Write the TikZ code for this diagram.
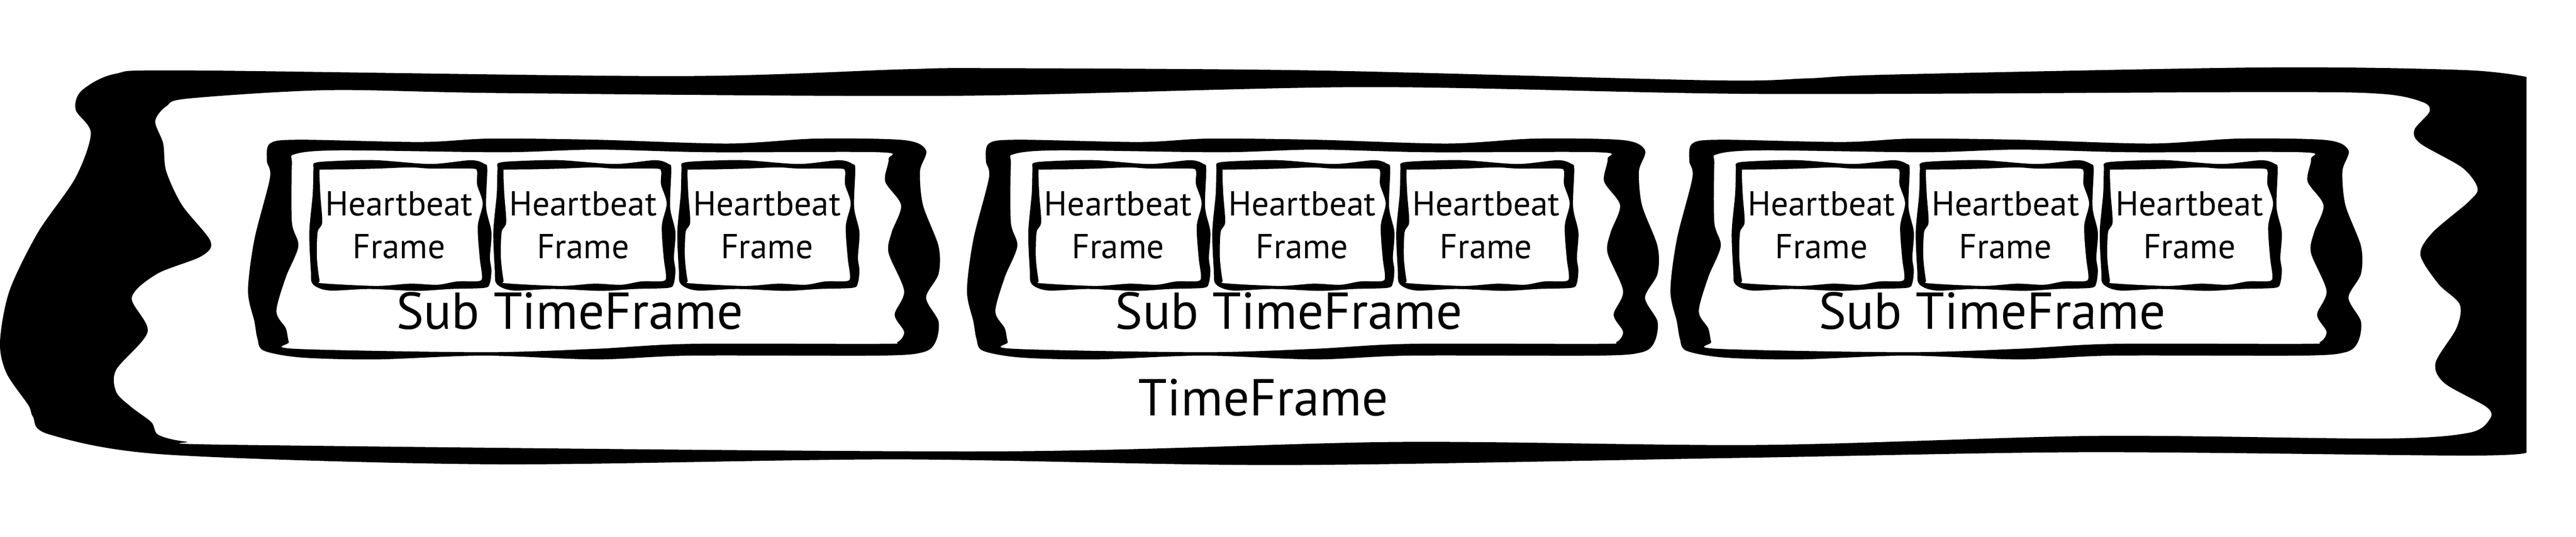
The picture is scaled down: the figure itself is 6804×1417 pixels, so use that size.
\documentclass[tikz,border=0pt]{standalone}
\usepackage{fontspec}
\setmainfont{PT Sans}
\tikzstyle{frame} = [fill=black, even odd rule]
\tikzstyle{hblabel} = [align=center, inner sep=0pt, font=\fontsize{13}{16.1}\selectfont]
\tikzstyle{tflabel} = [anchor=base, inner sep=0pt, font=\fontsize{19.5}{23}\selectfont]

\begin{document}
\begin{tikzpicture}[x=0.005cm, y=-0.005cm]
\useasboundingbox (0,0) rectangle (6804,1417);

% TimeFrame band
\fill[frame] plot[smooth] coordinates {(6673,203) (6509,185) (5988,178) (4990,197) (4773,207)
    (4513,212) (3471,186) (2603,180) (2386,183) (1779,201) (499,186) (304,195) (215,240)
    (200,290) (240,352) (199,470) (100,614) (25,768) (0,903) (17,985) (75,1070) (87,1100)
    (130,1147) (434,1200) (1302,1226) (2365,1213) (3384,1228) (4599,1209) (5511,1194)
    (6509,1203) (6673,1195)} -- cycle
  plot[smooth cycle] coordinates {(499,260) (868,238) (1345,246) (2517,253) (3601,230)
    (4643,248) (5988,243) (6292,248) (6400,270) (6417,295) (6377,343) (6393,379) (6504,443)
    (6544,497) (6520,533) (6425,614) (6393,673) (6441,750) (6497,804) (6488,867) (6433,958)
    (6457,1012) (6568,1075) (6576,1107) (6520,1143) (6292,1158) (5532,1151) (4643,1175)
    (3688,1167) (2603,1192) (651,1175) (490,1166) (418,1148) (400,1115) (347,1075)
    (307,1035) (307,976) (390,876) (348,786) (415,723) (531,677) (556,637) (481,542)
    (439,452) (431,379) (410,320) (440,280)};
\node[tflabel] (tf) at (3337,1097) {TimeFrame};

% Sub TimeFrames with their heartbeat frames
\foreach \s [count=\i] in {655,2554,4412} {
  \begin{scope}[shift={(\s,0)}]
    \fill[frame] plot[smooth cycle] coordinates {(58,379) (133,369) (456,375) (639,366)
        (920,369) (1269,379) (1501,366) (1733,370) (1791,397) (1775,452) (1783,542)
        (1824,650) (1824,723) (1791,786) (1824,849) (1816,903) (1783,930) (1667,939)
        (1169,939) (920,949) (622,939) (340,949) (141,944) (42,926) (25,894) (17,849)
        (0,768) (17,632) (58,470) (50,425)}
      plot[smooth cycle] coordinates {(124,407) (241,397) (672,402) (920,395) (1219,402)
        (1667,402) (1692,420) (1683,479) (1725,542) (1700,614) (1692,668) (1733,768)
        (1708,831) (1733,876) (1716,903) (1667,908) (1169,908) (920,921) (622,930)
        (124,921) (108,903) (100,867) (75,822) (100,732) (133,650) (116,587) (116,434)};
    \node[tflabel] (stf-\i) at (850,869) {Sub TimeFrame};
    \foreach \h [count=\j] in {166,652,1138} {
      \begin{scope}[shift={(\h,0)}]
        \fill[frame] plot[smooth cycle] coordinates {(11,430) (66,425) (173,423) (316,433)
            (423,423) (459,433) (466,447) (463,547) (477,613) (473,680) (477,713) (473,747)
            (459,760) (370,763) (280,768) (155,763) (48,767) (5,750) (0,713) (-4,613)
            (5,513) (7,447)}
          plot[smooth cycle] coordinates {(30,448) (102,447) (180,445) (263,442) (316,445)
            (423,445) (439,452) (439,487) (454,537) (441,597) (446,680) (452,727) (445,742)
            (388,743) (334,752) (263,749) (173,755) (30,748) (23,740) (16,680) (18,613)
            (30,587) (25,513) (23,453)};
        \node[hblabel] (hb-\i-\j) at (233,595) {Heartbeat\\Frame};
      \end{scope}
    }
  \end{scope}
}
\end{tikzpicture}
\end{document}
